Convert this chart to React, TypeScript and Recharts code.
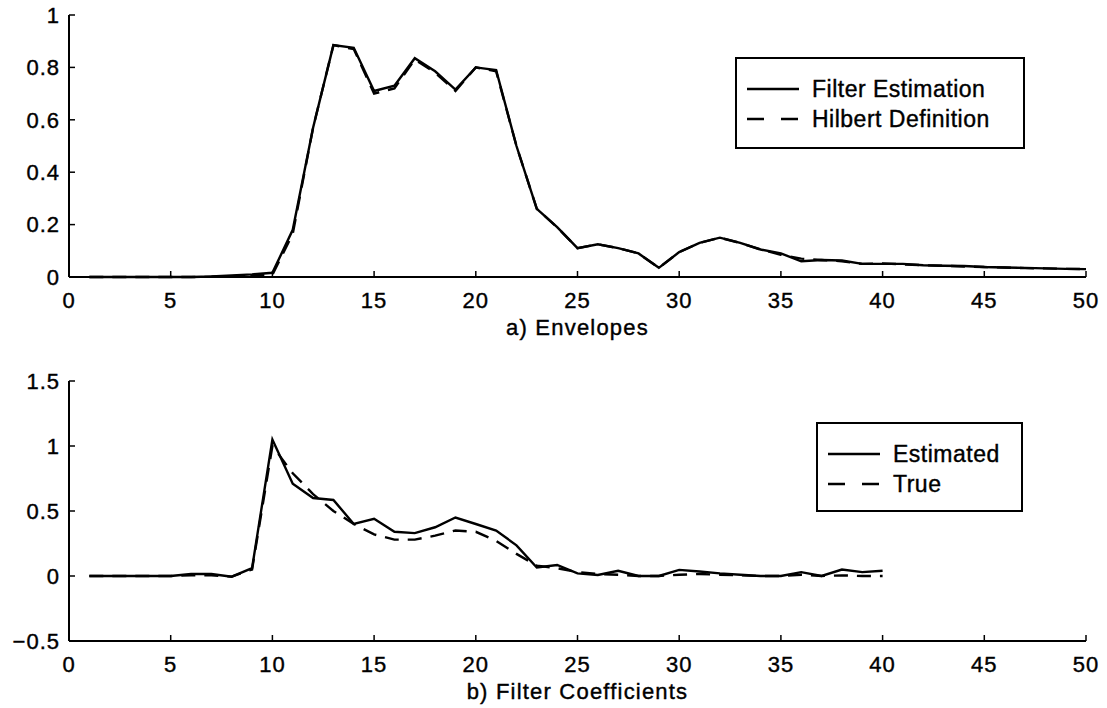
import React from 'react';
import { LineChart, Line, XAxis, YAxis, Legend } from 'recharts';

// ---------- data ----------
const envX = [1, 2, 3, 4, 5, 6, 7, 8, 9, 10, 11, 12, 13, 14, 15, 16, 17, 18, 19, 20, 21, 22, 23, 24, 25, 26, 27, 28, 29, 30, 31, 32, 33, 34, 35, 36, 37, 38, 39, 40, 41, 42, 43, 44, 45, 46, 47, 48, 49, 50];
const filterEstimation = [0, 0, 0, 0, 0, 0, 0.002, 0.006, 0.01, 0.016, 0.18, 0.57, 0.885, 0.875, 0.71, 0.73, 0.835, 0.785, 0.715, 0.8, 0.79, 0.5, 0.26, 0.19, 0.11, 0.125, 0.11, 0.09, 0.035, 0.095, 0.13, 0.15, 0.13, 0.105, 0.09, 0.06, 0.065, 0.063, 0.05, 0.05, 0.05, 0.045, 0.043, 0.042, 0.038, 0.036, 0.035, 0.033, 0.031, 0.03];
const hilbertDefinition = [0, 0, 0, 0, 0, 0, 0.001, 0.003, 0.005, 0.008, 0.165, 0.57, 0.885, 0.87, 0.7, 0.72, 0.83, 0.78, 0.71, 0.8, 0.785, 0.5, 0.26, 0.19, 0.11, 0.125, 0.11, 0.09, 0.035, 0.095, 0.13, 0.15, 0.13, 0.105, 0.085, 0.07, 0.065, 0.06, 0.05, 0.052, 0.048, 0.045, 0.043, 0.04, 0.038, 0.036, 0.034, 0.033, 0.031, 0.03];

const coefX = [1, 2, 3, 4, 5, 6, 7, 8, 9, 10, 11, 12, 13, 14, 15, 16, 17, 18, 19, 20, 21, 22, 23, 24, 25, 26, 27, 28, 29, 30, 31, 32, 33, 34, 35, 36, 37, 38, 39, 40];
const estimatedCoef = [0, 0, 0, 0, 0, 0.015, 0.015, -0.005, 0.06, 1.05, 0.71, 0.6, 0.585, 0.4, 0.44, 0.34, 0.33, 0.375, 0.45, 0.4, 0.35, 0.236, 0.065, 0.085, 0.02, 0.008, 0.04, 0, 0, 0.047, 0.035, 0.02, 0.01, 0, 0, 0.03, 0, 0.05, 0.03, 0.04];
const trueCoef = [0, 0, 0, 0, 0, 0.005, 0.005, -0.005, 0.05, 1.0, 0.79, 0.63, 0.5, 0.4, 0.32, 0.28, 0.28, 0.31, 0.35, 0.34, 0.27, 0.17, 0.08, 0.06, 0.03, 0.015, 0.01, 0, 0, 0.01, 0.015, 0.01, 0.005, 0, 0, 0.01, 0, 0.005, 0, 0];

const xTicks = [0, 5, 10, 15, 20, 25, 30, 35, 40, 45, 50];
const envYTicks = [0, 0.2, 0.4, 0.6, 0.8, 1];
const coefYTicks = [-0.5, 0, 0.5, 1, 1.5];

const envData = envX.map((x, i) => ({ x, est: filterEstimation[i], hil: hilbertDefinition[i] }));
const coefData = coefX.map((x, i) => ({ x, est: estimatedCoef[i], tru: trueCoef[i] }));

// ---------- style ----------
const FONT = "'Liberation Sans', Arial, Helvetica, sans-serif";
const TICK_FS = 22;
const TICK_LEN = 6;
const DASH = '14 9';
const LINE_W = 2.4;
const fmt = (v: number) => (v < 0 ? '\u2212' + String(-v) : String(v));

const BottomTick = (props: any) => {
  const { x, y, payload } = props;
  return (
    <g>
      <line x1={x} y1={y} x2={x} y2={y - TICK_LEN} stroke="#000" strokeWidth={1.5} />
      <text x={x} y={y + 23} dy="0.35em" textAnchor="middle" fontFamily={FONT} fontSize={TICK_FS} letterSpacing={1} fill="#000" stroke="#000" strokeWidth={0.4}>
        {fmt(payload.value)}
      </text>
    </g>
  );
};
const TopTick = (props: any) => {
  const { x, y } = props;
  return <line x1={x} y1={y} x2={x} y2={y + TICK_LEN} stroke="#000" strokeWidth={1.5} />;
};
const LeftTick = (props: any) => {
  const { x, y, payload } = props;
  return (
    <g>
      <line x1={x} y1={y} x2={x + TICK_LEN} y2={y} stroke="#000" strokeWidth={1.5} />
      <text x={x - 9} y={y} dy="0.35em" textAnchor="end" fontFamily={FONT} fontSize={TICK_FS} letterSpacing={1} fill="#000" stroke="#000" strokeWidth={0.4}>
        {fmt(payload.value)}
      </text>
    </g>
  );
};
const RightTick = (props: any) => {
  const { x, y } = props;
  return <line x1={x} y1={y} x2={x - TICK_LEN} y2={y} stroke="#000" strokeWidth={1.5} />;
};

const makeLegend = (sampleLen: number) => (props: any) => {
  const payload = props.payload || [];
  return (
    <div
      style={{
        border: '2px solid #000',
        background: '#fff',
        boxSizing: 'border-box',
        paddingTop: 15,
        paddingLeft: 10,
        fontFamily: FONT,
        fontSize: 23,
        letterSpacing: 0.5,
        color: '#000',
        WebkitTextStroke: '0.4px #000',
        width: '100%',
        height: '100%',
      }}
    >
      {payload.map((entry: any, i: number) => (
        <div key={i} style={{ display: 'flex', alignItems: 'center', height: 30 }}>
          <svg width={sampleLen} height={4} style={{ marginRight: 13, display: 'block' }}>
            <line
              x1={0}
              y1={2}
              x2={sampleLen}
              y2={2}
              stroke="#000"
              strokeWidth={LINE_W}
              strokeDasharray={entry.payload && entry.payload.strokeDasharray ? '17 17' : undefined}
            />
          </svg>
          <span style={{ lineHeight: '30px', whiteSpace: 'nowrap' }}>{entry.value}</span>
        </div>
      ))}
    </div>
  );
};

const axisLine = { stroke: '#000', strokeWidth: 2 };
const captionStyle = { fontFamily: FONT, fontSize: 22, letterSpacing: 1.2, fill: '#000', stroke: '#000', strokeWidth: 0.4 };

export default function App() {
  return (
    <div style={{ position: 'absolute', left: 0, top: 0, width: 1107, height: 708, background: '#fff' }}>
      <LineChart width={1107} height={360} data={envData} margin={{ top: 15, right: 21, left: 0, bottom: 0 }}>
        <XAxis
          dataKey="x"
          type="number"
          domain={[0, 50]}
          ticks={xTicks}
          allowDataOverflow
          height={83}
          tickSize={0}
          tickMargin={0}
          axisLine={axisLine}
          tickLine={false}
          tick={<BottomTick />}
          interval={0}
          label={{ value: 'a) Envelopes', position: 'insideTop', offset: 42, ...captionStyle }}
        />
        <XAxis
          xAxisId="top"
          orientation="top"
          dataKey="x"
          type="number"
          domain={[0, 50]}
          ticks={xTicks}
          height={0}
          tickSize={0}
          tickMargin={0}
          axisLine={axisLine}
          tickLine={false}
          tick={<TopTick />}
          interval={0}
        />
        <YAxis
          type="number"
          domain={[0, 1]}
          ticks={envYTicks}
          width={69}
          tickSize={0}
          tickMargin={0}
          axisLine={axisLine}
          tickLine={false}
          tick={<LeftTick />}
          interval={0}
        />
        <YAxis
          yAxisId="right"
          orientation="right"
          type="number"
          domain={[0, 1]}
          ticks={envYTicks}
          width={0}
          tickSize={0}
          tickMargin={0}
          axisLine={axisLine}
          tickLine={false}
          tick={<RightTick />}
          interval={0}
        />
        <Legend
          layout="vertical"
          align="center"
          verticalAlign="middle"
          wrapperStyle={{ left: 735, top: 57, width: 290, height: 92 }}
          content={makeLegend(52)}
        />
        <Line name="Filter Estimation" dataKey="est" type="linear" stroke="#000" strokeWidth={LINE_W} dot={false} isAnimationActive={false} />
        <Line name="Hilbert Definition" dataKey="hil" type="linear" stroke="#000" strokeWidth={LINE_W} strokeDasharray={DASH} dot={false} isAnimationActive={false} />
      </LineChart>

      <LineChart width={1107} height={348} data={coefData} margin={{ top: 21, right: 21, left: 0, bottom: 0 }}>
        <XAxis
          dataKey="x"
          type="number"
          domain={[0, 50]}
          ticks={xTicks}
          allowDataOverflow
          height={67}
          tickSize={0}
          tickMargin={0}
          axisLine={axisLine}
          tickLine={false}
          tick={<BottomTick />}
          interval={0}
          label={{ value: 'b) Filter Coefficients', position: 'insideTop', offset: 42, ...captionStyle }}
        />
        <XAxis
          xAxisId="top"
          orientation="top"
          dataKey="x"
          type="number"
          domain={[0, 50]}
          ticks={xTicks}
          height={0}
          tickSize={0}
          tickMargin={0}
          axisLine={axisLine}
          tickLine={false}
          tick={<TopTick />}
          interval={0}
        />
        <YAxis
          type="number"
          domain={[-0.5, 1.5]}
          ticks={coefYTicks}
          width={69}
          tickSize={0}
          tickMargin={0}
          axisLine={axisLine}
          tickLine={false}
          tick={<LeftTick />}
          interval={0}
        />
        <YAxis
          yAxisId="right"
          orientation="right"
          type="number"
          domain={[-0.5, 1.5]}
          ticks={coefYTicks}
          width={0}
          tickSize={0}
          tickMargin={0}
          axisLine={axisLine}
          tickLine={false}
          tick={<RightTick />}
          interval={0}
        />
        <Legend
          layout="vertical"
          align="center"
          verticalAlign="middle"
          wrapperStyle={{ left: 816, top: 62, width: 207, height: 90 }}
          content={makeLegend(52)}
        />
        <Line name="Estimated" dataKey="est" type="linear" stroke="#000" strokeWidth={LINE_W} dot={false} isAnimationActive={false} />
        <Line name="True" dataKey="tru" type="linear" stroke="#000" strokeWidth={LINE_W} strokeDasharray={DASH} dot={false} isAnimationActive={false} />
      </LineChart>
    </div>
  );
}
